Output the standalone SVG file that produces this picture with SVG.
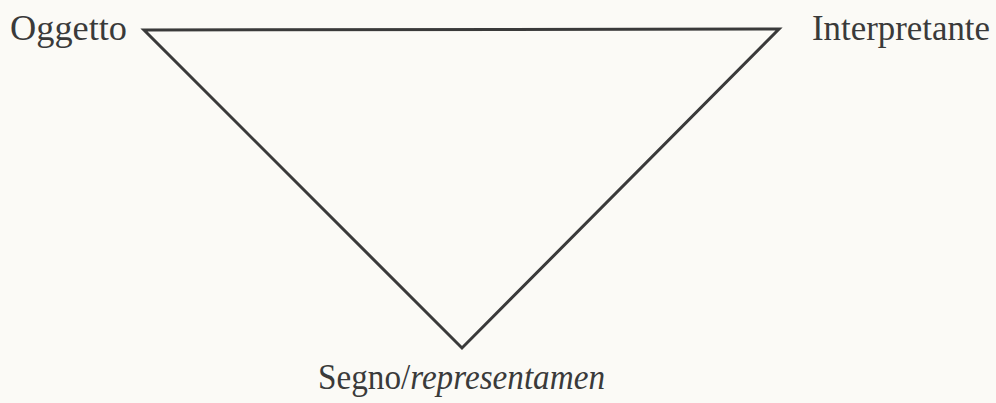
<svg xmlns="http://www.w3.org/2000/svg" width="996" height="403" viewBox="0 0 996 403">
<style>
.lbl{font-family:"Liberation Serif","Times New Roman",serif;font-size:35px;fill:#3a3a3a}
.edge{stroke:#3a3a3a;stroke-width:3;fill:none;stroke-linejoin:miter}
</style>
<rect width="996" height="403" fill="#fbfaf6"/>
<g id="connectors">
<polygon class="edge" points="144,30 779,29 462,348"/>
</g>
<g id="oggetto"><text class="lbl" x="10" y="40" textLength="117" lengthAdjust="spacingAndGlyphs">Oggetto</text></g>
<g id="interpretante"><text class="lbl" x="812" y="40" textLength="178" lengthAdjust="spacingAndGlyphs">Interpretante</text></g>
<g id="segno"><text class="lbl" x="318" y="389" textLength="287" lengthAdjust="spacingAndGlyphs">Segno/<tspan font-style="italic">representamen</tspan></text></g>
</svg>
